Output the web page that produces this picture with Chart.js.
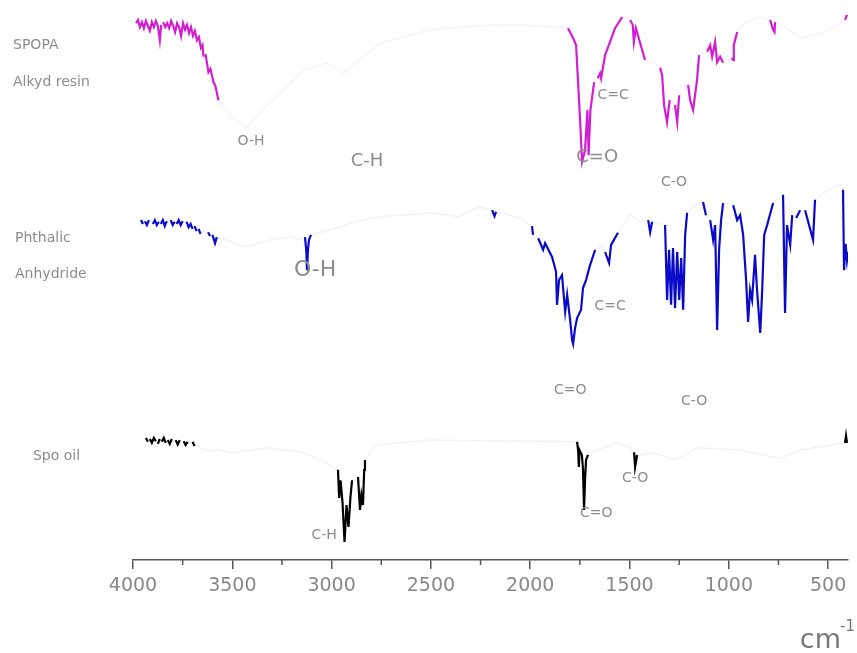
<!DOCTYPE html>
<html>
<head>
<meta charset="utf-8">
<script src="https://cdn.jsdelivr.net/npm/chart.js@4/dist/chart.umd.min.js"></script>
<style>
    body { margin: 0; background: #fff; }
    #wrap { width: 857px; height: 653px; }
</style>
</head>
<body>
<div id="wrap"><canvas id="ftir"></canvas></div>
<script>
// Wavenumbers (cm-1) and offset transmittance
const spopaWn = [3985, 3975, 3965, 3955, 3945, 3935, 3925, 3915, 3905, 3895, 3885, 3875, 3865, 3858, 3848, 3838, 3828, 3818, 3808, 3798,
    3788, 3778, 3768, 3758, 3748, 3738, 3728, 3718, 3708, 3698, 3688, 3678, 3668, 3658, 3650, 3645, 3635, 3620, 3610, 3595,
    3585, 3570, 3500, 3426, 3330, 3190, 3140, 3023, 2942, 2756, 2656, 2504, 2353, 2152, 1950, 1810, 1784, 1769, 1749, 1739,
    1724, 1712, 1706, 1697, 1678, 1660, 1648, 1643, 1623, 1598, 1573, 1537, 1497, 1484, 1478, 1468, 1422, 1381, 1346, 1336,
    1326, 1311, 1298, 1271, 1260, 1250, 1235, 1205, 1195, 1180, 1160, 1150, 1135, 1109, 1094, 1084, 1069, 1059, 1044, 1029,
    985, 978, 975, 958, 918, 842, 792, 777, 770, 767, 717, 641, 566, 490, 425, 415, 405];
const spopaT = [97.6, 98.2, 96.9, 97.8, 96.7, 98.0, 97.1, 96.2, 97.8, 96.9, 98.0, 97.1, 94.5, 97.3, 97.8, 96.9, 97.6, 96.7, 98.0, 97.1,
    96.0, 97.6, 96.9, 95.3, 97.6, 96.4, 97.3, 95.8, 96.9, 95.3, 96.2, 94.5, 95.1, 93.1, 93.6, 91.5, 92.0, 88.7, 89.3, 86.9,
    86.2, 83.6, 80.4, 78.7, 82.5, 87.3, 89.1, 90.4, 88.5, 94.0, 94.9, 96.4, 96.9, 97.3, 97.1, 96.7, 94.9, 93.6, 80.0, 72.4,
    74.5, 81.8, 73.6, 81.8, 86.9, 87.6, 88.5, 87.6, 91.8, 94.2, 96.7, 98.7, 98.2, 97.3, 94.2, 96.7, 90.9, 90.4, 89.5, 88.2,
    82.7, 79.6, 83.6, 82.7, 79.6, 84.5, 84.9, 86.4, 83.6, 81.8, 87.3, 91.8, 91.8, 92.4, 93.6, 91.5, 94.2, 90.5, 91.5, 90.4,
    91.3, 90.9, 93.6, 96.0, 97.8, 98.7, 98.2, 96.4, 96.0, 97.8, 96.9, 94.9, 95.5, 96.4, 97.8, 98.2, 99.1];

const phthalicWn = [3960, 3950, 3940, 3930, 3920, 3910, 3900, 3890, 3880, 3870, 3860, 3850, 3840, 3830, 3820, 3810, 3800, 3790, 3780, 3770,
    3760, 3750, 3740, 3730, 3720, 3710, 3700, 3690, 3680, 3670, 3660, 3645, 3630, 3622, 3612, 3600, 3587, 3578, 3552, 3436,
    3310, 3194, 3179, 3134, 3127, 3124, 3119, 3114, 3104, 3008, 2882, 2756, 2504, 2404, 2363, 2253, 2192, 2180, 2172, 2051,
    1991, 1986, 1960, 1935, 1925, 1890, 1870, 1865, 1855, 1840, 1824, 1814, 1799, 1789, 1784, 1774, 1764, 1744, 1734, 1719,
    1699, 1673, 1648, 1623, 1603, 1593, 1558, 1497, 1447, 1406, 1396, 1386, 1321, 1311, 1301, 1291, 1281, 1271, 1260, 1250,
    1240, 1230, 1220, 1210, 1170, 1130, 1115, 1094, 1079, 1069, 1059, 1049, 1039, 1029, 978, 958, 943, 928, 913, 903,
    893, 883, 868, 858, 842, 832, 822, 807, 777, 727, 717, 707, 691, 681, 661, 641, 616, 576, 566, 515,
    450, 425, 420, 412, 405, 400];
const phthalicT = [61.8, 61.1, 61.6, 60.9, 61.8, 61.3, 61.1, 61.8, 60.9, 61.5, 61.1, 61.8, 60.7, 61.6, 61.3, 61.8, 60.9, 61.5, 61.1, 61.8,
    60.9, 61.6, 61.3, 61.5, 60.5, 61.1, 60.2, 60.7, 59.8, 60.2, 59.3, 59.8, 59.5, 59.6, 58.9, 59.1, 57.6, 58.7, 58.5, 56.9,
    58.2, 58.9, 58.2, 58.7, 56.0, 52.7, 56.4, 58.2, 59.1, 60.0, 61.5, 62.4, 63.1, 62.7, 62.4, 64.2, 63.6, 62.5, 63.3, 62.2,
    60.7, 59.1, 58.5, 56.4, 57.6, 55.1, 52.4, 46.4, 50.9, 51.8, 45.1, 48.2, 43.6, 40.0, 39.3, 42.2, 44.0, 45.5, 49.5, 50.9,
    53.6, 56.4, 57.3, 56.0, 54.0, 57.3, 59.5, 62.7, 61.5, 61.8, 59.6, 61.5, 60.9, 47.3, 56.4, 46.4, 56.7, 45.8, 56.0, 47.3,
    54.9, 45.5, 59.1, 63.1, 64.5, 65.1, 62.7, 61.8, 58.2, 60.9, 41.8, 56.4, 61.8, 64.9, 64.5, 61.8, 62.7, 59.1, 50.9, 43.3,
    49.1, 47.3, 55.5, 49.1, 41.3, 49.1, 59.1, 60.9, 64.9, 66.4, 44.9, 60.9, 57.3, 62.7, 62.2, 63.6, 63.6, 58.2, 65.5, 66.9,
    68.2, 67.3, 52.7, 57.5, 54.5, 56.0];

const spoOilWn = [3935, 3925, 3915, 3905, 3895, 3885, 3875, 3865, 3855, 3845, 3835, 3825, 3815, 3805, 3795, 3785, 3775, 3765, 3755, 3745,
    3735, 3725, 3715, 3700, 3690, 3680, 3660, 3640, 3600, 3577, 3496, 3325, 3150, 3058, 3008, 2968, 2962, 2955, 2945, 2935,
    2925, 2915, 2905, 2897, 2880, 2867, 2857, 2850, 2842, 2836, 2832, 2781, 2504, 2000, 1764, 1759, 1755, 1752, 1740, 1734,
    1729, 1724, 1719, 1709, 1690, 1663, 1563, 1497, 1477, 1472, 1462, 1440, 1386, 1271, 1160, 950, 742, 641, 415, 410,
    405, 400];
const spoOilT = [22.2, 21.5, 22.0, 21.3, 22.2, 21.6, 21.1, 22.0, 21.5, 22.2, 21.3, 21.8, 21.1, 22.0, 21.5, 21.8, 21.0, 21.8, 21.3, 21.6,
    20.9, 21.5, 21.1, 21.5, 20.7, 21.1, 20.4, 20.0, 19.8, 20.0, 19.5, 20.4, 19.6, 18.2, 17.3, 16.4, 11.3, 14.5, 10.4, 3.3,
    10.0, 6.0, 11.5, 14.5, 14.5, 15.1, 9.1, 11.8, 10.0, 16.4, 18.2, 20.9, 21.8, 21.6, 21.5, 20.0, 16.9, 20.0, 19.1, 16.4,
    9.1, 14.5, 18.2, 19.1, 19.6, 20.0, 21.3, 20.5, 19.6, 16.9, 19.1, 19.1, 19.6, 18.2, 20.4, 20.0, 18.5, 20.0, 21.3, 22.6,
    21.3, 21.5];

const seriesNames = ['SPOPA Alkyd resin', 'Phthalic Anhydride', 'Spo oil'];
const seriesColors = ['#d21ed2', '#0a0ac8', '#000000'];
const paleColors = ['rgba(210,30,210,0.07)', 'rgba(10,10,200,0.06)', 'rgba(0,0,0,0.05)'];

const xTicks = [4000, 3500, 3000, 2500, 2000, 1500, 1000, 500];

// Peak and sample labels, placed in data units
const peakLabels = [
    { text: 'SPOPA', wn: 4604, t: 93.6, size: 14, align: 'left' },
    { text: 'Alkyd resin', wn: 4604, t: 86.9, size: 14, align: 'left' },
    { text: 'O-H', wn: 3406, t: 76.2, size: 14, align: 'center' },
    { text: 'C-H', wn: 2822, t: 72.5, size: 18, align: 'center' },
    { text: 'C=C', wn: 1583, t: 84.5, size: 14, align: 'center' },
    { text: 'C=O', wn: 1663, t: 73.3, size: 18, align: 'center' },
    { text: 'C-O', wn: 1276, t: 68.7, size: 14, align: 'center' },
    { text: 'Phthalic', wn: 4594, t: 58.5, size: 14, align: 'left' },
    { text: 'Anhydride', wn: 4594, t: 52.0, size: 14, align: 'left' },
    { text: 'O-H', wn: 3083, t: 52.7, size: 22, align: 'center' },
    { text: 'C=C', wn: 1598, t: 46.2, size: 14, align: 'center' },
    { text: 'C=O', wn: 1799, t: 30.9, size: 14, align: 'center' },
    { text: 'C-O', wn: 1175, t: 28.9, size: 14, align: 'center' },
    { text: 'Spo oil', wn: 4504, t: 18.9, size: 14, align: 'left' },
    { text: 'C-H', wn: 3038, t: 4.5, size: 14, align: 'center' },
    { text: 'C=O', wn: 1668, t: 8.4, size: 14, align: 'center' },
    { text: 'C-O', wn: 1472, t: 14.9, size: 14, align: 'center' }
];

// Steep parts of a trace get the full colour, flat parts stay faint
function steep(ctx) {
    const dx = Math.abs(ctx.p1.x - ctx.p0.x);
    const dy = Math.abs(ctx.p1.y - ctx.p0.y);
    return dy > 2 && dy > 1.5 * dx;
}

function buildDataset(wn, t, i) {
    return {
        label: seriesNames[i],
        data: wn.map((w, k) => ({ x: w, y: t[k] })),
        borderColor: seriesColors[i],
        borderWidth: 2,
        pointRadius: 0,
        tension: 0,
        segment: {
            borderColor: ctx => steep(ctx) ? seriesColors[i] : paleColors[i],
            borderWidth: ctx => steep(ctx) ? 2.2 : 1.5
        }
    };
}

// Labels, minor axis ticks and the unit
const labelPlugin = {
    id: 'peakLabels',
    afterDraw(chart) {
        const { ctx, chartArea, scales: { x, y } } = chart;
        ctx.save();
        ctx.textBaseline = 'middle';
        peakLabels.forEach(l => {
            ctx.font = `${l.size}px "DejaVu Sans"`;
            ctx.fillStyle = '#8c8c8c';
            ctx.textAlign = l.align;
            ctx.fillText(l.text, x.getPixelForValue(l.wn), y.getPixelForValue(l.t));
        });
        ctx.strokeStyle = '#555';
        ctx.lineWidth = 1.5;
        for (let v = 750; v < 4000; v += 500) {
            const px = x.getPixelForValue(v);
            ctx.beginPath();
            ctx.moveTo(px, chartArea.bottom);
            ctx.lineTo(px, chartArea.bottom + 5);
            ctx.stroke();
        }
        // cm-1 unit at the bottom right
        ctx.fillStyle = '#777';
        ctx.textAlign = 'right';
        ctx.textBaseline = 'alphabetic';
        ctx.font = '27px "DejaVu Sans"';
        ctx.fillText('cm', chart.width - 16, chart.height - 5);
        ctx.textAlign = 'left';
        ctx.font = '15px "DejaVu Sans"';
        ctx.fillText('-1', chart.width - 17, chart.height - 22);
        ctx.restore();
    }
};

function initChart() {
    const ctx = document.getElementById('ftir').getContext('2d');
    new Chart(ctx, {
        type: 'line',
        data: {
            datasets: [
                buildDataset(spopaWn, spopaT, 0),
                buildDataset(phthalicWn, phthalicT, 1),
                buildDataset(spoOilWn, spoOilT, 2)
            ]
        },
        options: {
            responsive: true,
            maintainAspectRatio: false,
            animation: false,
            layout: { padding: { left: 133, right: 9, top: 10, bottom: 0 } },
            scales: {
                x: {
                    type: 'linear',
                    reverse: true,
                    min: 400,
                    max: 4000,
                    afterBuildTicks: s => { s.ticks = xTicks.map(v => ({ value: v })); },
                    afterFit: s => { s.height = 93; },
                    grid: { drawOnChartArea: false, tickLength: 9, color: '#555', lineWidth: 1.5 },
                    border: { color: '#555', width: 1.5 },
                    ticks: {
                        color: '#888',
                        padding: 6,
                        maxRotation: 0,
                        callback: v => String(v),
                        font: { family: 'DejaVu Sans', size: 19 }
                    }
                },
                y: { display: false, min: 0, max: 100 }
            },
            plugins: {
                legend: { display: false },
                tooltip: { enabled: false }
            }
        },
        plugins: [labelPlugin]
    });
}

document.addEventListener('DOMContentLoaded', initChart);
</script>
</body>
</html>
